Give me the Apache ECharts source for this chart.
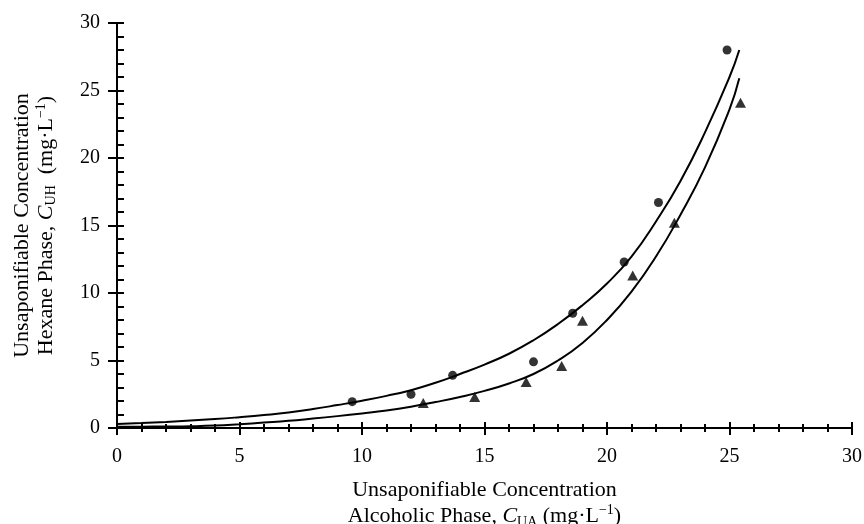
<!DOCTYPE html>
<html><head><meta charset="utf-8">
<script src="https://cdn.jsdelivr.net/npm/echarts@6/dist/echarts.min.js"></script>
<style>html,body{margin:0;padding:0;background:#fff}#c{width:864px;height:524px}</style>
</head><body><div id="c"></div>
<script>
// Measured data points (circles and triangles)
const circleX = [9.6, 12.0, 13.7, 17.0, 18.6, 20.7, 22.1, 24.9];
const circleY = [1.95, 2.5, 3.9, 4.9, 8.5, 12.3, 16.7, 28.0];
const triX = [12.5, 14.6, 16.7, 18.15, 19.0, 21.05, 22.75, 25.45];
const triY = [1.85, 2.3, 3.4, 4.6, 7.95, 11.3, 15.2, 24.1];
// Fitted curves at each unit of x
const upperX = [0, 1, 2, 3, 4, 5, 6, 7, 8, 9, 10, 11, 12, 13, 14, 15, 16, 17, 18, 19, 20, 21, 22, 23, 24, 25, 25.4];
const upperY = [0.30, 0.37, 0.45, 0.55, 0.66, 0.80, 0.96, 1.15, 1.40, 1.70, 2.02, 2.38, 2.80, 3.35, 4.0, 4.7, 5.5, 6.5, 7.7, 9.1, 10.7, 12.7, 15.3, 18.3, 21.9, 26.0, 28.0];
const lowerX = [0, 1, 2, 3, 4, 5, 6, 7, 8, 9, 10, 11, 12, 13, 14, 15, 16, 17, 18, 19, 20, 21, 22, 23, 24, 25, 25.4];
const lowerY = [0.10, 0.10, 0.11, 0.13, 0.18, 0.28, 0.40, 0.53, 0.70, 0.88, 1.08, 1.30, 1.58, 1.92, 2.3, 2.75, 3.3, 4.0, 5.0, 6.3, 8.0, 10.1, 12.7, 15.8, 19.3, 23.6, 25.9];
// Axes
const axisMin = 0, axisMax = 30, axisStep = 5;
const xTitle = ['Unsaponifiable Concentration', 'Alcoholic Phase, ', 'C', 'UA', '(mg·L', '−1', ')'];
const yTitle = ['Unsaponifiable Concentration', 'Hexane Phase, ', 'C', 'UH', '(mg·L', '−1', ')'];

const zip = (a, b) => a.map((v, i) => [v, b[i]]);
const font = '"Liberation Serif", "DejaVu Serif", serif';
function makeRich(lh) {
  return {
    a: {fontFamily: font, fontSize: 22, lineHeight: lh, color: '#000'},
    i: {fontFamily: font, fontSize: 22, lineHeight: lh, color: '#000', fontStyle: 'italic'},
    s: {fontFamily: font, fontSize: 14, lineHeight: 12, color: '#000', verticalAlign: 'bottom'},
    p: {fontFamily: font, fontSize: 14, lineHeight: 12, color: '#000', verticalAlign: 'top'}
  };
}
function titleText(t, gap) {
  return '{a|' + t[0] + '}\n{a|' + t[1] + '}{i|' + t[2] + '}{s|' + t[3] + '}{a|' + gap + t[4] + '}{p|' + t[5] + '}{a|' + t[6] + '}';
}
const lineStyle = {color: '#000', width: 2};
const labelStyle = {fontFamily: font, fontSize: 20, color: '#000'};

function xAx(main) {
  return {
    type: 'value', min: axisMin, max: axisMax, interval: axisStep, position: 'bottom',
    name: main ? titleText(xTitle, ' ') : '', nameLocation: 'middle', nameGap: 49,
    nameTextStyle: {rich: makeRich(26), align: 'center'},
    axisLine: {show: main, onZero: false, lineStyle: lineStyle},
    axisTick: {show: true, inside: !main, length: main ? 7 : 6, lineStyle: lineStyle},
    minorTick: {show: true, splitNumber: 5, length: 4, lineStyle: lineStyle},
    axisLabel: {show: main, margin: 19, ...labelStyle},
    splitLine: {show: false}, minorSplitLine: {show: false}
  };
}
function yAx(main) {
  return {
    type: 'value', min: axisMin, max: axisMax, interval: axisStep, position: 'left',
    name: main ? titleText(yTitle, '  ') : '', nameLocation: 'middle', nameGap: 59,
    nameTextStyle: {rich: makeRich(24), align: 'center'},
    axisLine: {show: main, onZero: false, lineStyle: lineStyle},
    axisTick: {show: true, inside: !main, length: main ? 9 : 7, lineStyle: lineStyle},
    minorTick: {show: !main, splitNumber: 5, length: 7, lineStyle: lineStyle},
    axisLabel: {show: main, margin: 17, ...labelStyle},
    splitLine: {show: false}, minorSplitLine: {show: false}
  };
}

const chart = echarts.init(document.getElementById('c'), null, {renderer: 'canvas'});
chart.setOption({
  animation: false,
  backgroundColor: '#fff',
  grid: {left: 117, right: 12, top: 23, bottom: 96, containLabel: false, outerBoundsMode: 'none'},
  xAxis: [xAx(true), xAx(false)],
  yAxis: [yAx(true), yAx(false)],
  series: [
    {type: 'line', data: zip(upperX, upperY), smooth: true, showSymbol: false, lineStyle: {color: '#000', width: 2}, z: 3},
    {type: 'line', data: zip(lowerX, lowerY), smooth: true, showSymbol: false, lineStyle: {color: '#000', width: 2}, z: 3},
    {type: 'scatter', data: zip(circleX, circleY), symbol: 'circle', symbolSize: 9, itemStyle: {color: '#000'}, z: 4},
    {type: 'scatter', data: zip(triX, triY), symbol: 'triangle', symbolSize: [11, 10], itemStyle: {color: '#000'}, z: 4}
  ]
});
</script></body></html>
